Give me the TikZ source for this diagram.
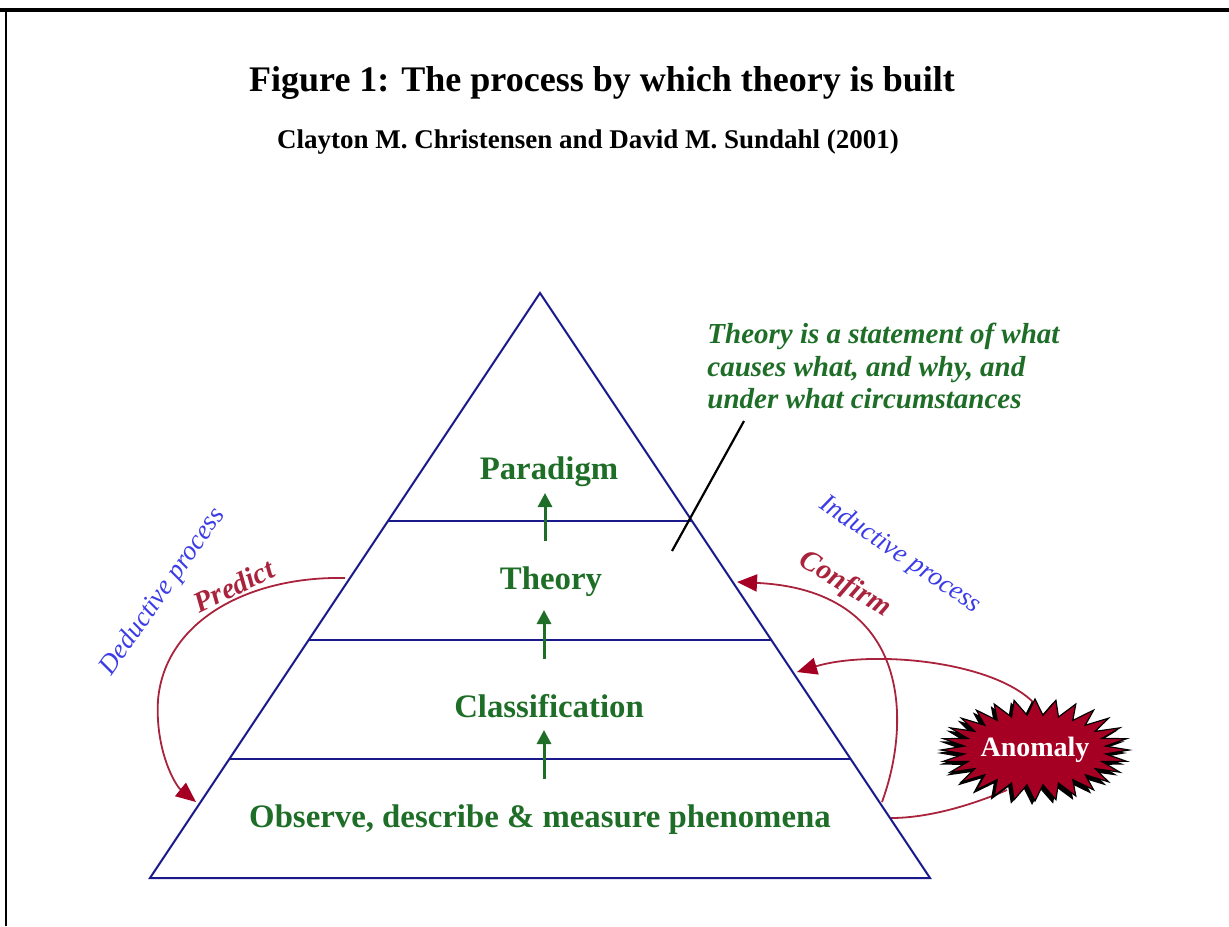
\documentclass[tikz,border=0pt]{standalone}
\usepackage{fontspec}
\setmainfont{Liberation Serif}
\usetikzlibrary{arrows.meta,calc}
\definecolor{navy}{RGB}{25,25,140}
\definecolor{dkgreen}{RGB}{30,110,40}
\definecolor{lblue}{RGB}{60,60,230}
\definecolor{dred}{RGB}{170,35,60}
\definecolor{anom}{RGB}{165,0,35}
\pgfdeclarelayer{bg}
\pgfsetlayers{bg,main}
\begin{document}
\begin{tikzpicture}[x=0.5pt,y=-0.5pt,
  pyr/.style={draw=navy,line width=1pt},
  layer/.style={font=\fontsize{16.4}{18}\selectfont\bfseries, text=dkgreen, inner sep=0pt, anchor=base},
  uparrow/.style={draw=dkgreen, line width=1.5pt, -{Triangle[length=7pt,width=7pt]}},
  proc/.style={font=\fontsize{13.5}{15}\selectfont\itshape, text=lblue, inner sep=0pt},
  redlbl/.style={font=\fontsize{14.5}{16}\selectfont\bfseries\itshape, text=dred, inner sep=0pt},
  redarc/.style={draw=dred, line width=0.9pt},
  redtip/.style={-{Triangle[length=10pt,width=8.5pt,color=anom]}}]
\useasboundingbox (0,0) rectangle (1229,926);
\draw[line width=1.7pt] (0,10) -- (1229,10);
\draw[line width=1.4pt] (6,10) -- (6,926);

% titles
\node[font=\fontsize{18}{20}\selectfont\bfseries, anchor=base, inner sep=0pt] (title) at (602,91) {Figure 1: The process by which theory is built};
\node[font=\fontsize{13.5}{15}\selectfont\bfseries, anchor=base, inner sep=0pt] (authors) at (588,148) {Clayton M. Christensen and David M. Sundahl (2001)};

% pyramid
\coordinate (A) at (540,293);
\coordinate (BL) at (150,878);
\coordinate (BR) at (930,878);
\draw[pyr] (A) -- (BL) -- (BR) -- cycle;
\draw[pyr] ($(A)!0.3897!(BL)$) -- ($(A)!0.3897!(BR)$);
\draw[pyr] ($(A)!0.5932!(BL)$) -- ($(A)!0.5932!(BR)$);
\draw[pyr] ($(A)!0.7966!(BL)$) -- ($(A)!0.7966!(BR)$);

% layer labels
\node[layer] (paradigm) at (549,479) {Paradigm};
\node[layer] (theory) at (551,589) {Theory};
\node[layer] (classif) at (549,717) {Classification};
\node[layer] (observe) at (540,827) {Observe, describe \& measure phenomena};

% green arrows
\coordinate (g1s) at (545,541); \coordinate (g1e) at (545,493);
\coordinate (g2s) at (544,659); \coordinate (g2e) at (544,610);
\coordinate (g3s) at (544,779); \coordinate (g3e) at (544,730);
\draw[uparrow] (g1s) -- (g1e);
\draw[uparrow] (g2s) -- (g2e);
\draw[uparrow] (g3s) -- (g3e);

% statement
\node[font=\fontsize{14.5}{16.25}\selectfont\bfseries\itshape, text=dkgreen, align=left, anchor=north west, inner sep=0pt] (statement) at (707,323) {Theory is a statement of what\\causes what, and why, and\\under what circumstances};
\coordinate (lt) at (744,421);
\coordinate (lb) at (672,551);
\draw[line width=1.1pt] (lt) -- (lb);

% process labels
\node[proc, rotate=55] (deduct) at (163,592) {Deductive process};
\node[proc, rotate=-34] (induct) at (900,555) {Inductive process};
\node[redlbl, rotate=26] (predict) at (234,586) {Predict};
\node[redlbl, rotate=-31] (confirm) at (845,585) {Confirm};

% anomaly starburst
\fill[black] plot[samples at={0,...,55}] ({1032+(95-23*mod(\x,2))*cos(\x*6.428571)}, {753+(52-16*mod(\x,2))*sin(\x*6.428571)}) -- cycle;
\filldraw[fill=anom, draw=black, line width=0.6pt] plot[samples at={0,...,55}] ({1035+(94-23*mod(\x,2))*cos(\x*6.428571)}, {750+(51-16*mod(\x,2))*sin(\x*6.428571)}) -- cycle;
\node[font=\fontsize{14}{16}\selectfont\bfseries, text=white, inner sep=0pt] (anomaly) at (1035,750) {Anomaly};

% red arcs
\coordinate (pS) at (345,578);
\coordinate (pE) at (196,802);
\coordinate (cS) at (882,802);
\coordinate (cE) at (737,582);
\coordinate (aE) at (797,672);
\coordinate (aL) at (891,818);
\begin{pgfonlayer}{bg}
\draw[redarc, redtip] (pS) .. controls (250,576) and (165,620) .. (158,700) .. controls (155,750) and (175,785) .. (pE);
\draw[redarc, redtip] (cS) .. controls (912,720) and (910,590) .. (cE);
\draw[redarc, redtip] ($(anomaly.center)+(-2,-48)$) .. controls (990,660) and (870,650) .. (aE);
\draw[redarc] ($(anomaly.center)+(-28,40)$) .. controls (960,810) and (920,818) .. (aL);
\end{pgfonlayer}
\end{tikzpicture}
\end{document}
